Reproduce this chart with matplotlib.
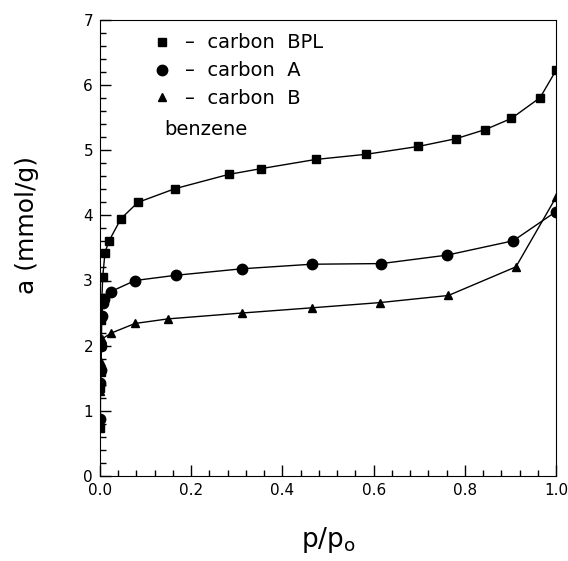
import matplotlib
matplotlib.use('Agg')
import matplotlib.pyplot as plt
from matplotlib.lines import Line2D
from matplotlib.ticker import MultipleLocator, FormatStrFormatter

# carbon BPL (squares)
bpl_x = [0.001, 0.001, 0.002, 0.002, 0.003, 0.004, 0.006, 0.011, 0.020, 0.046, 0.083, 0.164,
         0.282, 0.354, 0.473, 0.584, 0.698, 0.781, 0.845, 0.902, 0.965, 1.0]
bpl_y = [0.73, 1.35, 1.60, 2.00, 2.40, 2.70, 3.05, 3.43, 3.61, 3.95, 4.20, 4.41,
         4.63, 4.72, 4.86, 4.94, 5.06, 5.18, 5.32, 5.49, 5.81, 6.23]

# carbon A (circles)
a_x = [0.0005, 0.001, 0.002, 0.003, 0.004, 0.006, 0.009, 0.024, 0.077, 0.166,
       0.311, 0.464, 0.617, 0.761, 0.906, 1.0]
a_y = [0.87, 1.42, 1.62, 2.00, 2.45, 2.65, 2.72, 2.83, 3.00, 3.08,
       3.18, 3.25, 3.26, 3.39, 3.61, 4.06]

# carbon B (triangles)
b_x = [0.001, 0.002, 0.003, 0.004, 0.024, 0.077, 0.149, 0.311, 0.464, 0.613, 0.764, 0.912, 1.0]
b_y = [1.30, 1.75, 2.05, 2.10, 2.19, 2.34, 2.41, 2.50, 2.58, 2.66, 2.77, 3.21, 4.28]

labels = ['–  carbon  BPL', '–  carbon  A', '–  carbon  B']

plt.rcParams['font.family'] = ['DejaVu Sans']

fig = plt.figure(figsize=(5.68, 5.61), dpi=100)
ax = fig.add_axes([0.176, 0.152, 0.803, 0.812])

ax.plot(bpl_x, bpl_y, color='black', lw=1, marker='s', ms=6)
ax.plot(a_x, a_y, color='black', lw=1, marker='o', ms=7.5)
ax.plot(b_x, b_y, color='black', lw=1, marker='^', ms=6)

ax.set_xlim(0, 1.0)
ax.set_ylim(0, 7)
ax.xaxis.set_major_locator(MultipleLocator(0.2))
ax.xaxis.set_minor_locator(MultipleLocator(0.04))
ax.yaxis.set_major_locator(MultipleLocator(1))
ax.yaxis.set_minor_locator(MultipleLocator(0.2))
ax.xaxis.set_major_formatter(FormatStrFormatter('%.1f'))
ax.tick_params(which='both', direction='in', top=False, right=False, labelsize=11, width=1)
ax.tick_params(which='major', length=8, pad=5)
ax.tick_params(which='minor', length=4)

ax.set_xlabel('p/p$_\\mathregular{o}$', fontsize=19, labelpad=20)
ax.set_ylabel('a (mmol/g)', fontsize=18)
ax.yaxis.set_label_coords(-0.133, 0.55)

handles = [Line2D([], [], color='black', marker='s', ls='none', ms=6),
           Line2D([], [], color='black', marker='o', ls='none', ms=7.5),
           Line2D([], [], color='black', marker='^', ls='none', ms=6)]
ax.legend(handles, labels, loc='upper left', frameon=False, fontsize=14,
          handlelength=1.0, handletextpad=0.7, labelspacing=0.46,
          borderpad=0, borderaxespad=0, bbox_to_anchor=(0.114, 0.971))
ax.text(0.142, 0.761, 'benzene', transform=ax.transAxes, fontsize=14, va='center')

fig.savefig('out.png', dpi=100)
